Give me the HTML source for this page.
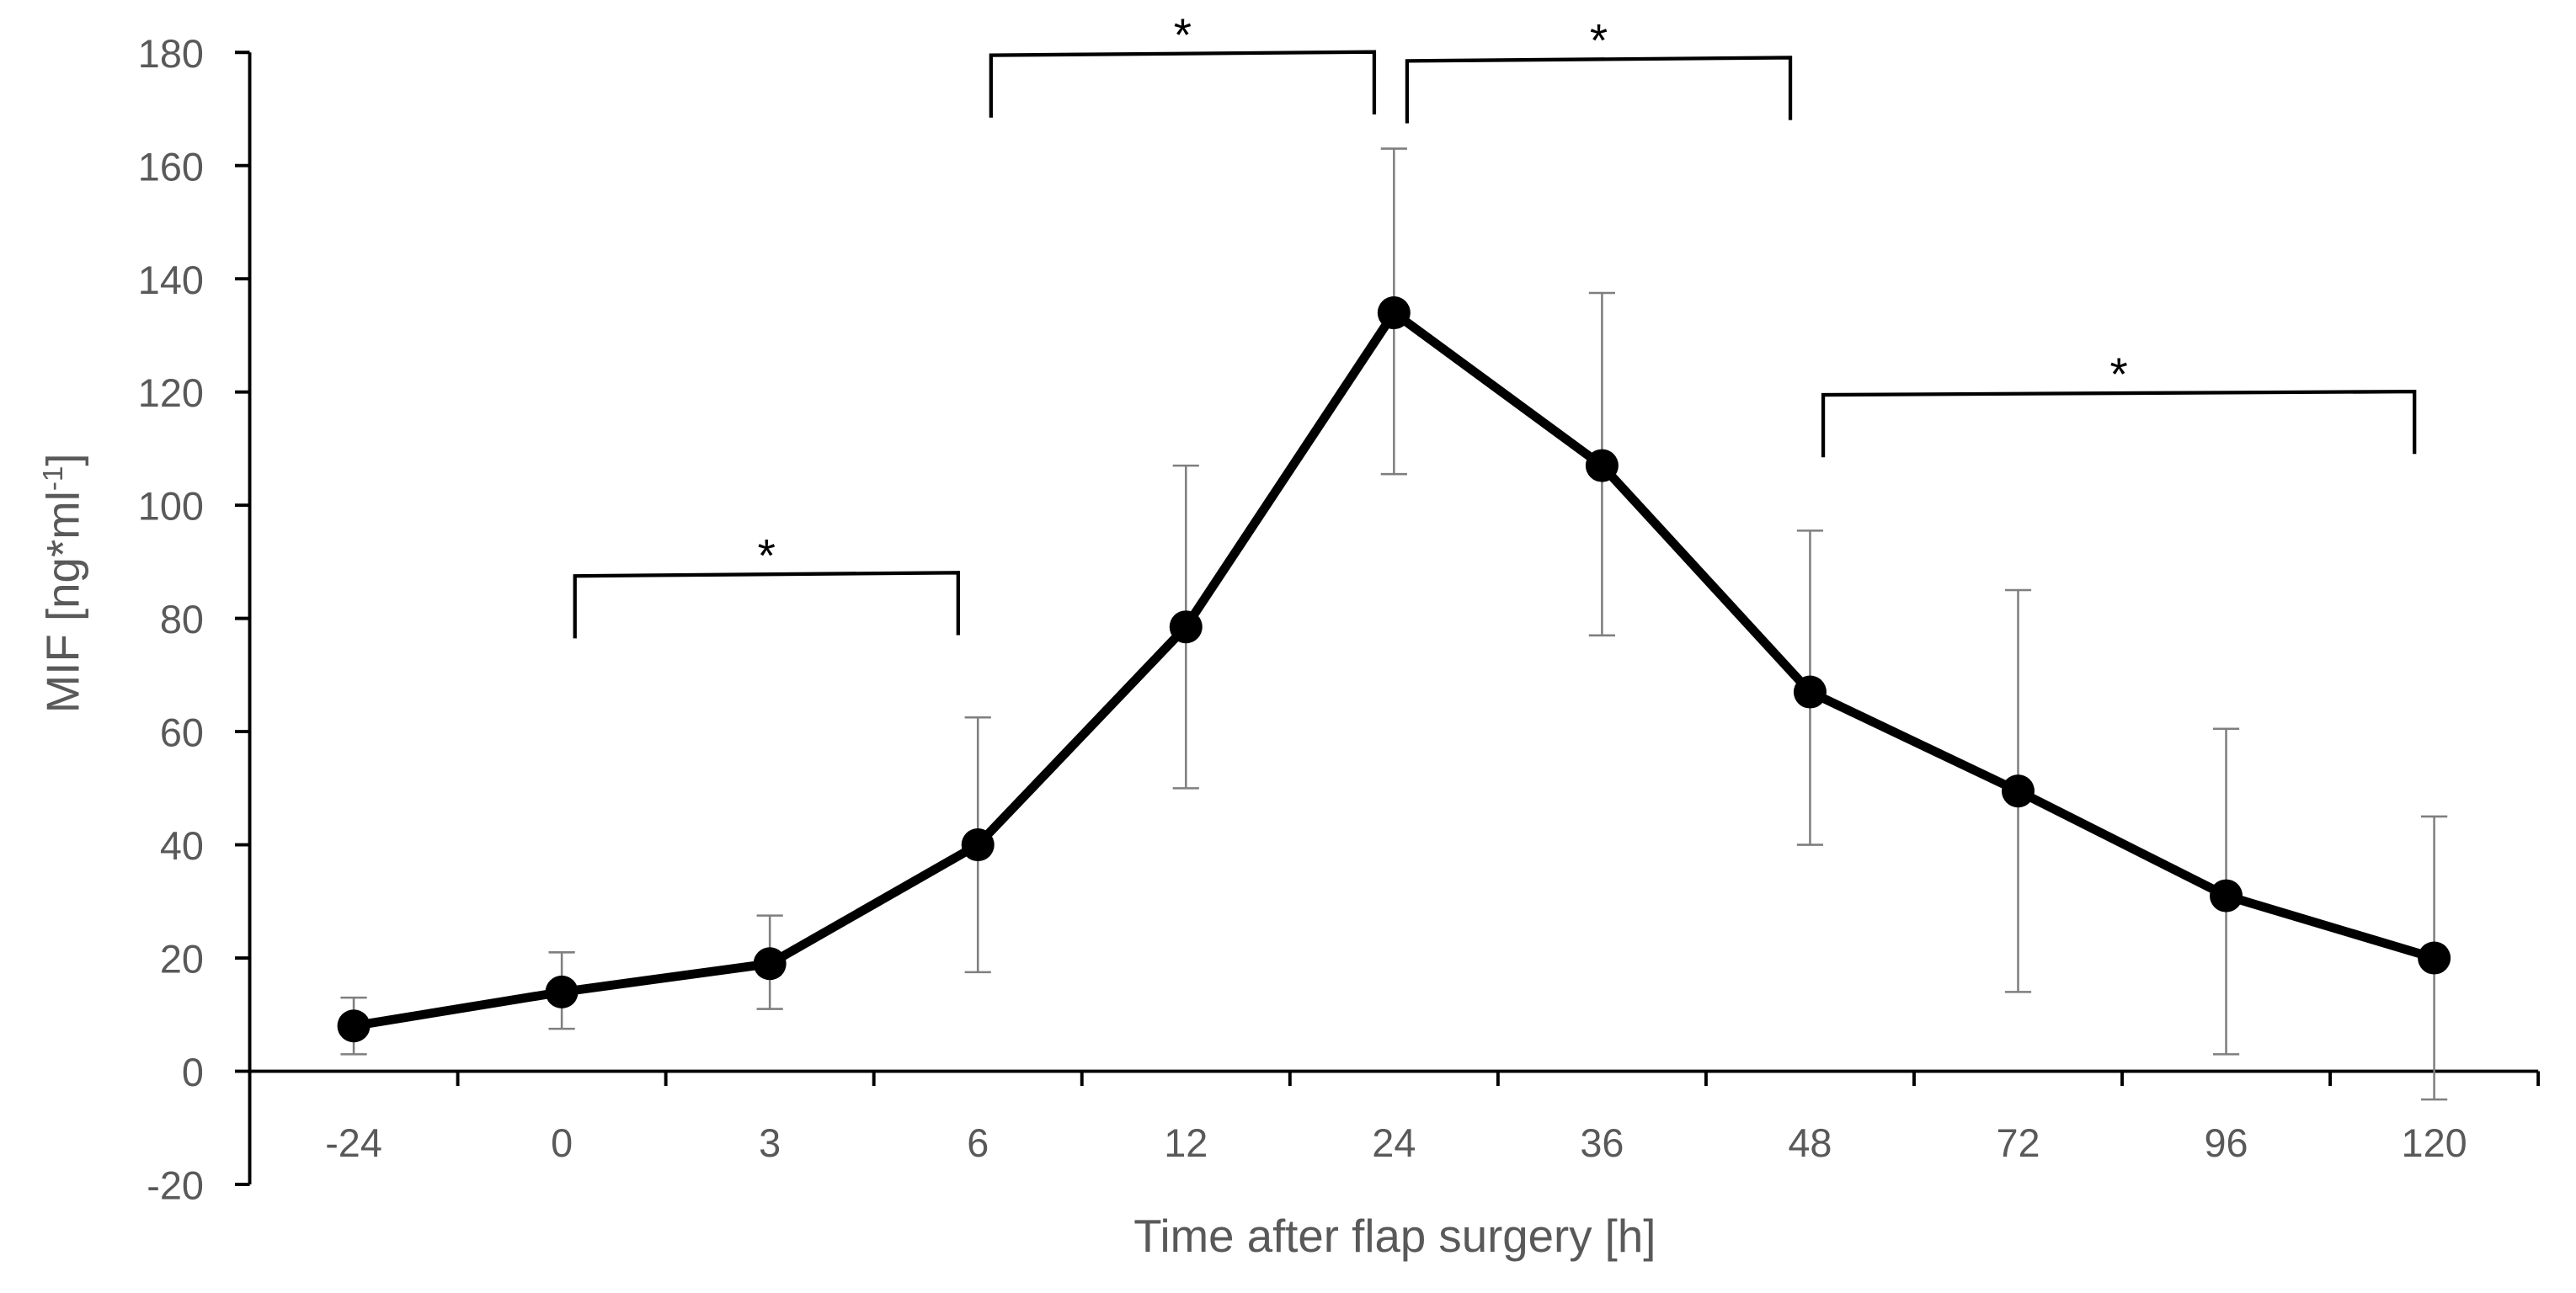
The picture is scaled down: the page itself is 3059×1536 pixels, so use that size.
<!DOCTYPE html>
<html><head><meta charset="utf-8"><style>
html,body{margin:0;padding:0;background:#fff}
svg{display:block}
text{font-family:"Liberation Sans","DejaVu Sans",sans-serif}
</style></head><body>
<svg id="chart" width="3059" height="1536" viewBox="0 0 1568 787" preserveAspectRatio="none" xmlns="http://www.w3.org/2000/svg"></svg>
<script>
const categories = ["-24","0","3","6","12","24","36","48","72","96","120"];
const meanValues = [8,14,19,40,78.5,134,107,67,49.5,31,20];
const errorUpper = [13,21,27.5,62.5,107,163,137.5,95.5,85,60.5,45];
const errorLower = [3,7.5,11,17.5,50,105.5,77,40,14,3,-5];
const yTicks = [-20,0,20,40,60,80,100,120,140,160,180];
// significance brackets: [fromCategoryIndex, toCategoryIndex, value level]
const bracketFrom = [1,3,5,7];
const bracketTo = [3,5,7,10];
const bracketLevel = [87.5,179.5,178.5,119.5];

const svg = document.getElementById('chart');
const NS = 'http://www.w3.org/2000/svg';
const x0 = 152, x1 = 1545, y0val = 652, pxPer = 3.445;
const band = (x1 - x0) / categories.length;
function xScale(i){ return x0 + band*(i+0.5); }
function yScale(v){ return y0val - v*pxPer; }
function mk(tag, attrs, parent){
  const e = document.createElementNS(NS, tag);
  for (const k in attrs) e.setAttribute(k, attrs[k]);
  (parent||svg).appendChild(e);
  return e;
}

const yAxis = mk('line',{x1:x0,y1:yScale(180),x2:x0,y2:yScale(-20),stroke:'#000','stroke-width':2});


yTicks.forEach(v=>{
  const t = mk('line',{x1:x0-9,y1:yScale(v),x2:x0,y2:yScale(v),stroke:'#000','stroke-width':2});
  
  
  const l = mk('text',{x:x0-28,y:yScale(v)+9,'text-anchor':'end','font-size':24,fill:'#595959'});
  l.textContent = v;
  
  
});
const xAxis = mk('line',{x1:x0,y1:yScale(0),x2:x1,y2:yScale(0),stroke:'#000','stroke-width':2});


for(let k=1;k<=categories.length;k++){
  const t = mk('line',{x1:x0+band*k,y1:yScale(0),x2:x0+band*k,y2:yScale(0)+9,stroke:'#000','stroke-width':2});
  
  
}
categories.forEach((c,i)=>{
  const l = mk('text',{x:xScale(i),y:704,'text-anchor':'middle','font-size':24,fill:'#595959'});
  l.textContent = c;
  
  
});
const xt = mk('text',{x:849,y:762,'text-anchor':'middle','font-size':28,fill:'#595959'});
xt.textContent = 'Time after flap surgery [h]';


const yt = mk('text',{x:0,y:0,'text-anchor':'middle','font-size':28,fill:'#595959',transform:'translate(48,355) rotate(-90)'});
yt.innerHTML = 'MIF [ng*ml<tspan font-size="17" dy="-10">-1</tspan><tspan dy="10">]</tspan>';



categories.forEach((c,i)=>{
  const x = xScale(i);
  const g = mk('g',{stroke:'#7f7f7f','stroke-width':1.3});
  
  
  mk('line',{x1:x,y1:yScale(errorUpper[i]),x2:x,y2:yScale(errorLower[i])},g);
  mk('line',{x1:x-8,y1:yScale(errorUpper[i]),x2:x+8,y2:yScale(errorUpper[i])},g);
  mk('line',{x1:x-8,y1:yScale(errorLower[i]),x2:x+8,y2:yScale(errorLower[i])},g);
});
const pts = meanValues.map((v,i)=>xScale(i)+','+yScale(v)).join(' ');
const line = mk('polyline',{points:pts,fill:'none',stroke:'#000','stroke-width':5.5,'stroke-linejoin':'round'});


meanValues.forEach((v,i)=>{
  const p = mk('circle',{cx:xScale(i),cy:yScale(v),r:10,fill:'#000'});
  
  
});
bracketFrom.forEach((f,j)=>{
  const t = bracketTo[j];
  const xa = xScale(f)+8, xb = xScale(t)-12;
  const yb = yScale(bracketLevel[j]);
  const g = mk('g',{stroke:'#000','stroke-width':2.2,fill:'none'});
  
  
  mk('polyline',{points:`${xa},${yb+38} ${xa},${yb} ${xb},${yb-2} ${xb},${yb+36}`},g);
  const s = mk('text',{x:(xa+xb)/2,y:yb-3,'text-anchor':'middle','font-size':28,fill:'#000',stroke:'none'});
  s.textContent = '*';
  
  
});
</script>
</body></html>
